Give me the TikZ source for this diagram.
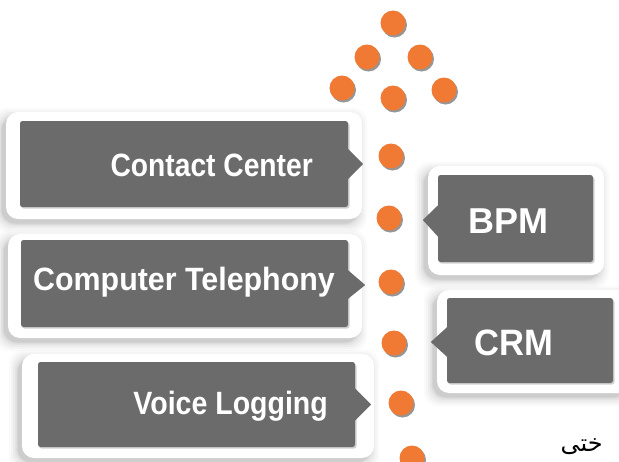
\documentclass[tikz,border=0pt]{standalone}
\usepackage{fontspec}
\setmainfont{Liberation Sans}
\newfontfamily\arabicfont[Script=Arabic]{DejaVu Sans}
\TeXXeTstate=1
\usetikzlibrary{calc}
\definecolor{boxgray}{RGB}{107,107,107}
\definecolor{dotorange}{RGB}{240,122,52}
\newcommand\shadowpanel[4]{%
  \foreach \s/\op in {9/0.02,7/0.025,5/0.03,3/0.035,1.5/0.045,0.5/0.05}{%
    \fill[black,opacity=\op,rounded corners=14pt] ({#1-4-\s},{#2+5-\s}) rectangle ({#3-4+\s},{#4+4+\s});}
  \fill[panelfill] (#1,#2) rectangle (#3,#4);}
\tikzset{
  panelfill/.style={fill=white, rounded corners=12pt},
  darkbox/.style={fill=boxgray, rounded corners=2.5pt, inner sep=0pt},
  boxshadow/.style={fill=black, opacity=0.18, rounded corners=2.5pt},
  pointer/.style={fill=boxgray},
  dot/.style={circle, fill=dotorange, minimum size=25pt, inner sep=0pt},
  dotshadow/.style={fill=black!75, opacity=0.55},
  lefttext/.style={text=white, font=\fontsize{31}{31}\selectfont\bfseries, inner sep=0pt},
  righttext/.style={text=white, font=\fontsize{36}{36}\selectfont\bfseries, inner sep=0pt},
}
\begin{document}
\begin{tikzpicture}[x=1pt,y=-1pt]
\useasboundingbox (0,0) rectangle (619,461);
\fill[white] (0,0) rectangle (619,461);

% white panels with soft shadows
\shadowpanel{6}{112}{362}{219}
\shadowpanel{8}{234}{362}{338}
\shadowpanel{22}{354}{374}{458}
\shadowpanel{428}{166}{604}{275}
\shadowpanel{437}{290}{630}{393}

% box shadows
\fill[boxshadow] (21,123) rectangle (349.5,208.5);
\fill[boxshadow] (22,242) rectangle (349.5,328.5);
\fill[boxshadow] (39,364) rectangle (356.5,448.5);
\fill[boxshadow] (439,177) rectangle (594.5,263.5);
\fill[boxshadow] (448,300) rectangle (614.5,384.5);

% dark boxes
\node[darkbox, minimum width=328pt, minimum height=86pt] (cc) at (184,164) {};
\node[darkbox, minimum width=327pt, minimum height=87pt] (ct) at (184.5,283.5) {};
\node[darkbox, minimum width=317pt, minimum height=85pt] (vl) at (196.5,404.5) {};
\node[darkbox, minimum width=155pt, minimum height=87pt] (bpm) at (515.5,218.5) {};
\node[darkbox, minimum width=166pt, minimum height=85pt] (crm) at (530,340.5) {};

% pointers
\fill[pointer] ($(cc.east)+(-1,-16)$) -- ($(cc.east)+(15,0)$) -- ($(cc.east)+(-1,16)$) -- cycle;
\fill[pointer] ($(ct.east)+(-1,-14)$) -- ($(ct.east)+(17,1.5)$) -- ($(ct.east)+(-1,16)$) -- cycle;
\fill[pointer] ($(vl.east)+(-1,-17)$) -- ($(vl.east)+(16,0)$) -- ($(vl.east)+(-1,17)$) -- cycle;
\fill[pointer] ($(bpm.west)+(1,-14)$) -- ($(bpm.west)+(-15,1.5)$) -- ($(bpm.west)+(1,19)$) -- cycle;
\fill[pointer] ($(crm.west)+(1,-14)$) -- ($(crm.west)+(-16,1.5)$) -- ($(crm.west)+(1,17)$) -- cycle;

% texts
\node[lefttext, anchor=base east] (cct) at (313,176) {\scalebox{0.91}[1.04]{Contact Center}};
\node[lefttext, anchor=base west] (ctt) at (33,290) {\scalebox{0.98}[1.04]{Computer Telephony}};
\node[lefttext, anchor=base east] (vlt) at (328,414) {\scalebox{0.92}[1.04]{Voice Logging}};
\node[righttext, anchor=base west] (bpmt) at (468,233) {BPM};
\node[righttext, anchor=base west] (crmt) at (474,355) {\scalebox{0.96}[1.02]{CRM}};

% dots
\foreach \n/\x/\y in {d1/393/23, d2/367/57, d3/420/57, d4/342/88, d5/393/98, d6/444/90,
                      d7/391/156, d8/389/218, d9/391/282, d10/394/343, d11/401/403, d12/412/458}{
  \fill[dotshadow] (\x+1.5,\y+2) circle[radius=12.5pt];
  \node[dot] (\n) at (\x,\y) {};
}

% small text at the lower right
\node[anchor=base east, inner sep=0pt, font=\arabicfont\fontsize{24}{24}\selectfont] (fa) at (603,451) {\beginR ختی\endR};
\end{tikzpicture}
\end{document}
